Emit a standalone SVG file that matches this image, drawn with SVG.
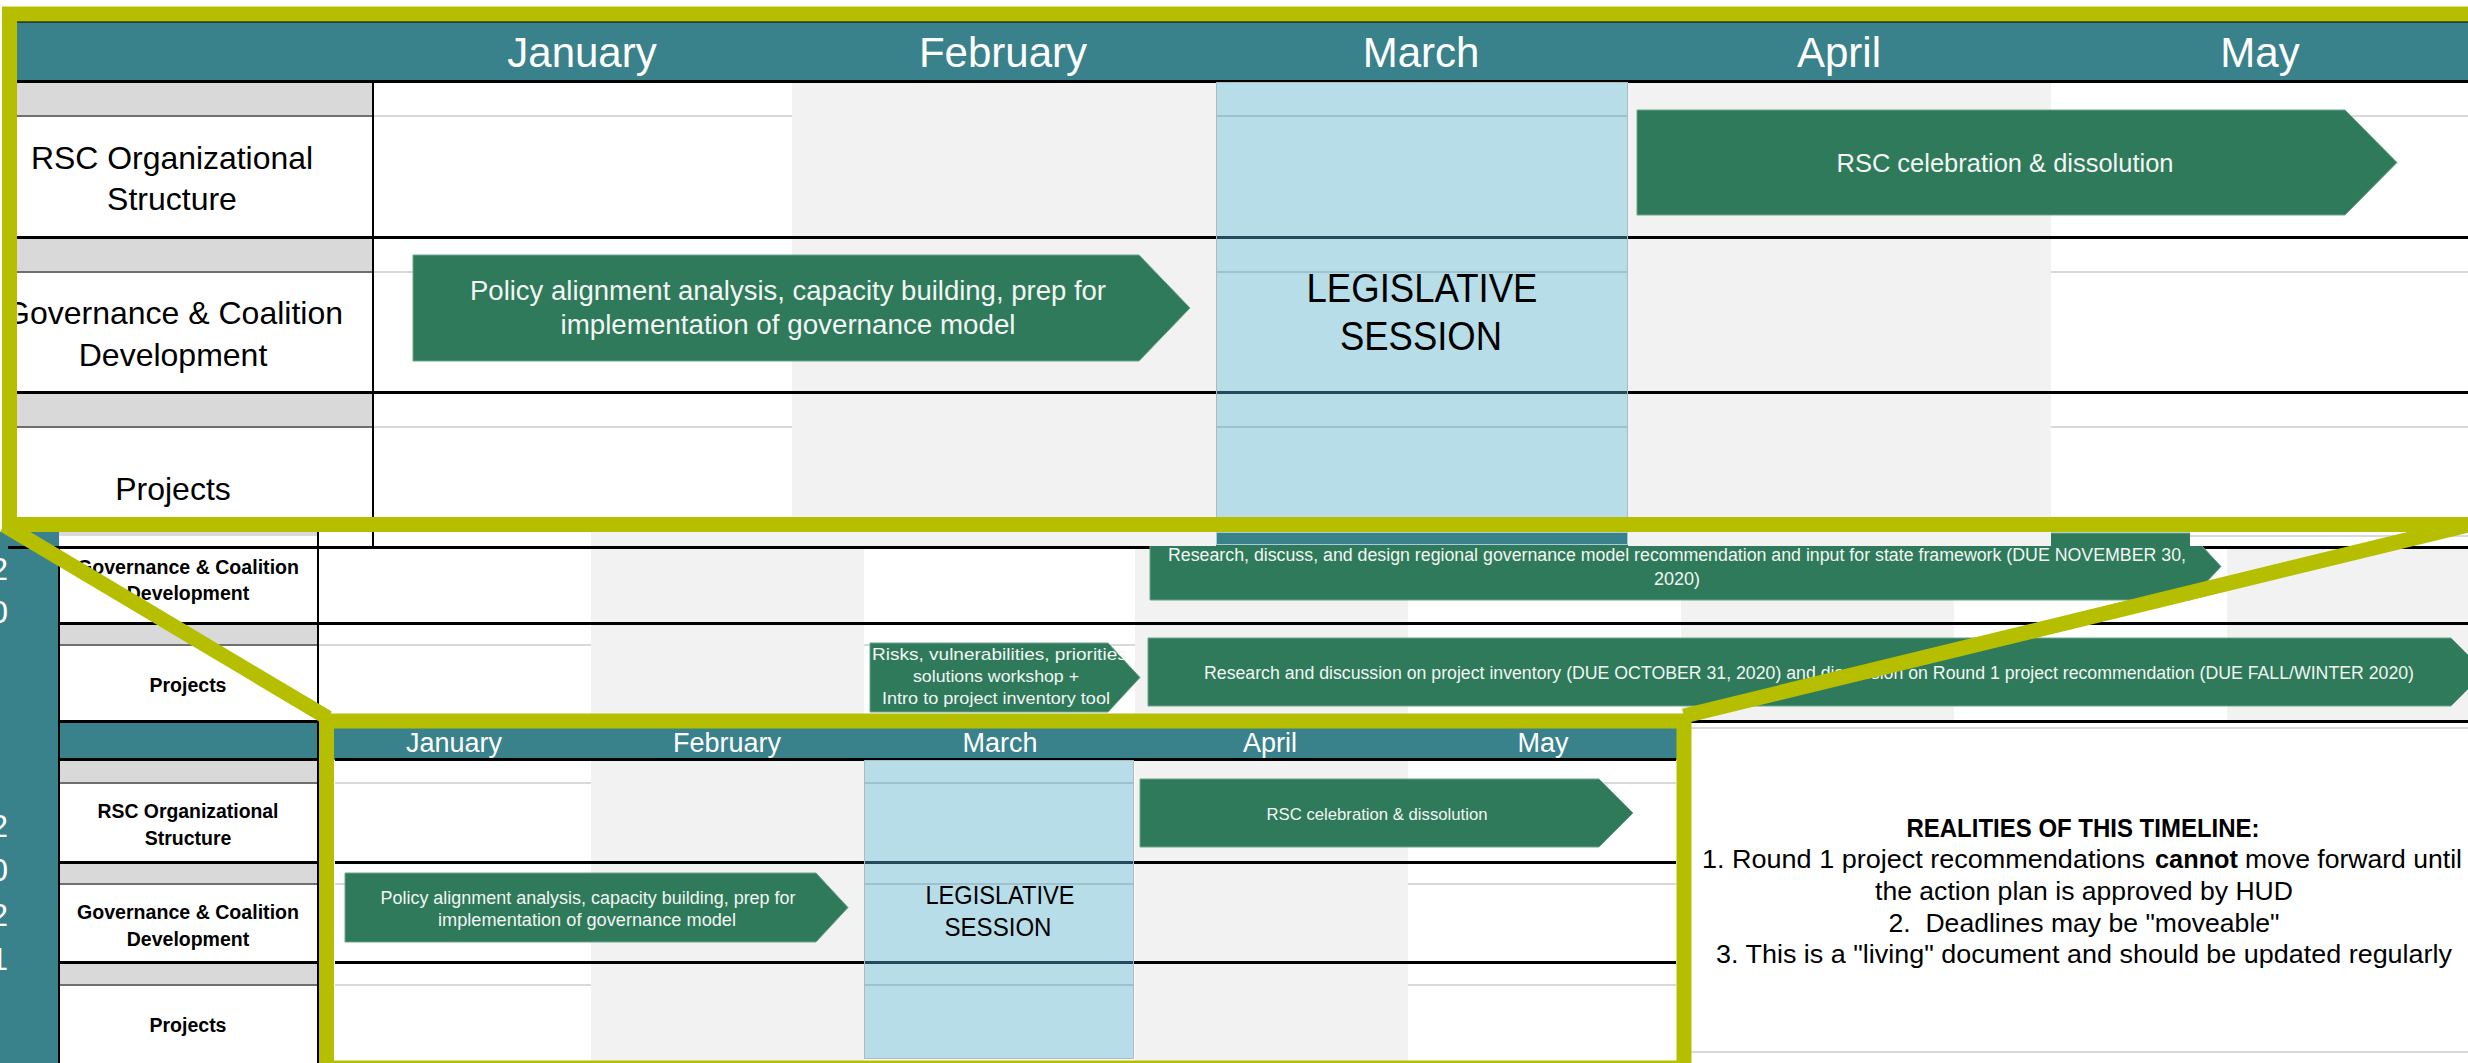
<svg xmlns="http://www.w3.org/2000/svg" width="2468" height="1063" viewBox="0 0 2468 1063">
<defs>
<style>
text{font-family:"Liberation Sans",Arial,sans-serif}
.mh{fill:#fff;text-anchor:middle}
.lb{fill:#000;text-anchor:middle}
.lbs{fill:#000;text-anchor:middle;font-weight:bold;font-size:19.5px}
.ar{fill:#2e7a5a;stroke:#6aa48a;stroke-width:1}
.at{fill:#f3f6f4;text-anchor:middle}
.teal{fill:#3a828b}
.band{fill:#d9d9d9}
.gcol{fill:#f2f2f2}
.blk{fill:#000}
.lt{fill:#d9d9d9}
.dg{fill:#6f6f6f}
.bl{fill:#9dc2ce}
.bd{fill:#23495a}
.frame{fill:none;stroke:#b6be00;stroke-width:15}
.conn{stroke:#b6be00;stroke-width:15;fill:none}
.yr{fill:#fff;font-size:32px;text-anchor:end}
.nt{fill:#000;text-anchor:middle;font-size:26px}
</style>
</defs>
<rect width="2468" height="1063" fill="#fff"/>

<g id="sheet">
  <rect class="teal" x="0" y="532" width="59" height="531"/>
  <text class="yr" x="8" y="580">2</text>
  <text class="yr" x="8" y="623">0</text>
  <text class="yr" x="8" y="837">2</text>
  <text class="yr" x="8" y="881">0</text>
  <text class="yr" x="8" y="926">2</text>
  <text class="yr" x="8" y="970">1</text>
  <rect class="gcol" x="591" y="532" width="273" height="189"/>
  <rect class="gcol" x="1135" y="532" width="273" height="189"/>
  <rect class="gcol" x="1681" y="532" width="273" height="189"/>
  <rect class="gcol" x="2227" y="532" width="241" height="189"/>
  <rect class="band" x="59" y="532" width="259" height="4"/>
  <rect class="band" x="59" y="623" width="259" height="22"/>
  <rect class="lt" x="318" y="644" width="273" height="2"/>
  <rect class="lt" x="864" y="644" width="271" height="2"/>
  <rect class="lt" x="1408" y="644" width="273" height="2"/>
  <rect class="lt" x="1954" y="644" width="273" height="2"/>
  <rect class="dg" x="59" y="644" width="259" height="2"/>
  <rect class="teal" x="59" y="721" width="1632" height="39"/>
  <rect class="band" x="59" y="760" width="259" height="23"/>
  <rect class="band" x="59" y="862" width="259" height="22"/>
  <rect class="band" x="59" y="962" width="259" height="23"/>
  <rect class="dg" x="59" y="782" width="259" height="2"/>
  <rect class="dg" x="59" y="883" width="259" height="2"/>
  <rect class="dg" x="59" y="984" width="259" height="2"/>
  <rect class="blk" x="8" y="546" width="2460" height="3"/>
  <rect class="blk" x="59" y="622" width="2409" height="3"/>
  <rect class="blk" x="59" y="720" width="2409" height="3"/>
  <rect class="blk" x="59" y="758" width="259" height="3"/>
  <rect class="blk" x="59" y="861" width="259" height="3"/>
  <rect class="blk" x="59" y="961" width="259" height="3"/>
  <rect class="blk" x="58" y="547" width="2" height="516"/>
  <rect class="blk" x="317" y="532" width="2" height="531"/>
  <text class="lbs" x="188" y="574" textLength="222" lengthAdjust="spacingAndGlyphs">Governance &amp; Coalition</text>
  <text class="lbs" x="188" y="600">Development</text>
  <text class="lbs" x="188" y="692">Projects</text>
  <text class="lbs" x="188" y="818" textLength="181" lengthAdjust="spacingAndGlyphs">RSC Organizational</text>
  <text class="lbs" x="188" y="845">Structure</text>
  <text class="lbs" x="188" y="919" textLength="222" lengthAdjust="spacingAndGlyphs">Governance &amp; Coalition</text>
  <text class="lbs" x="188" y="946">Development</text>
  <text class="lbs" x="188" y="1032">Projects</text>
  <g id="arrow-research-governance">
    <path class="ar" d="M1150,533 H2190 L2221,566.5 L2190,600 H1150 Z"/>
    <text class="at" x="1677" y="561" font-size="18" textLength="1018" lengthAdjust="spacingAndGlyphs">Research, discuss, and design regional governance model recommendation and input for state framework (DUE NOVEMBER 30,</text>
    <text class="at" x="1677" y="585" font-size="18">2020)</text>
  </g>
  <g id="arrow-risks-workshop">
    <path class="ar" d="M870,643 H1108 L1140,677.5 L1108,712 H870 Z"/>
    <text class="at" x="1002" y="660" font-size="17" textLength="260" lengthAdjust="spacingAndGlyphs">Risks, vulnerabilities, priorities,</text>
    <text class="at" x="996" y="682" font-size="17" textLength="166" lengthAdjust="spacingAndGlyphs">solutions workshop +</text>
    <text class="at" x="996" y="704" font-size="17" textLength="228" lengthAdjust="spacingAndGlyphs">Intro to project inventory tool</text>
  </g>
  <g id="arrow-project-inventory">
    <path class="ar" d="M1148,638 H2451 L2485,672 L2451,706 H1148 Z"/>
    <text class="at" x="1809" y="679" font-size="18" textLength="1210" lengthAdjust="spacingAndGlyphs">Research and discussion on project inventory (DUE OCTOBER 31, 2020) and discussion on Round 1 project recommendation (DUE FALL/WINTER 2020)</text>
  </g>
  <g id="notes">
    <rect class="lt" x="1691" y="727" width="777" height="2"/>
    <rect class="lt" x="1691" y="1051" width="777" height="2"/>
    <text class="nt" x="2083" y="837" font-weight="bold" textLength="353" lengthAdjust="spacingAndGlyphs">REALITIES OF THIS TIMELINE:</text>
    <text class="nt" y="868" style="text-anchor:start"><tspan x="1702" textLength="443" lengthAdjust="spacingAndGlyphs">1. Round 1 project recommendations</tspan><tspan x="2155" font-weight="bold" textLength="83" lengthAdjust="spacingAndGlyphs">cannot</tspan><tspan x="2245" textLength="217" lengthAdjust="spacingAndGlyphs">move forward until</tspan></text>
    <text class="nt" x="2084" y="900" textLength="418" lengthAdjust="spacingAndGlyphs">the action plan is approved by HUD</text>
    <text class="nt" x="2084" y="932" textLength="391" lengthAdjust="spacingAndGlyphs">2.&#160; Deadlines may be "moveable"</text>
    <text class="nt" x="2084" y="963" textLength="736" lengthAdjust="spacingAndGlyphs">3. This is a "living" document and should be updated regularly</text>
  </g>
</g>

<g id="callout-zoom">
  <rect fill="#fff" x="17" y="22" width="2451" height="510"/>
  <rect class="teal" x="17" y="22" width="2451" height="59"/>
  <rect class="blk" x="17" y="21" width="2451" height="1.5"/>
  <rect class="gcol" x="792" y="83" width="424" height="449"/>
  <rect class="gcol" x="1628" y="83" width="423" height="449"/>
  <rect class="gcol" x="792" y="532" width="424" height="14"/>
  <rect class="gcol" x="1628" y="532" width="423" height="14"/>
  <rect fill="#fff" x="2190" y="532" width="278" height="14"/>
  <rect class="lt" x="2190" y="535" width="278" height="2"/>
  <rect class="band" x="17" y="83" width="356" height="33"/>
  <rect class="band" x="17" y="239" width="356" height="33"/>
  <rect class="band" x="17" y="394" width="356" height="33"/>
  <rect class="dg" x="17" y="115" width="356" height="2"/>
  <rect class="dg" x="17" y="271" width="356" height="2"/>
  <rect class="dg" x="17" y="426" width="356" height="2"/>
  <rect class="lt" x="373" y="115" width="419" height="2"/>
  <rect class="lt" x="373" y="271" width="419" height="2"/>
  <rect class="lt" x="373" y="426" width="419" height="2"/>
  <rect class="lt" x="2051" y="115" width="417" height="2"/>
  <rect class="lt" x="2051" y="271" width="417" height="2"/>
  <rect class="lt" x="2051" y="426" width="417" height="2"/>
  <rect class="blk" x="17" y="80" width="2451" height="3"/>
  <rect class="blk" x="17" y="236" width="2451" height="3"/>
  <rect class="blk" x="17" y="391" width="2451" height="3"/>
  <rect class="blk" x="372" y="81" width="2" height="466"/>
  <rect fill="#b7dde8" stroke="#a9bcc2" stroke-width="1" x="1216.5" y="82.5" width="411" height="450"/>
  <rect class="bl" x="1217" y="115" width="410" height="2"/>
  <rect class="bl" x="1217" y="271" width="410" height="2"/>
  <rect class="bl" x="1217" y="426" width="410" height="2"/>
  <rect class="bd" x="1217" y="236" width="410" height="3"/>
  <rect class="bd" x="1217" y="391" width="410" height="3"/>
  <rect class="teal" stroke="#a6cdd4" stroke-width="1" x="1216.5" y="532.5" width="411" height="12"/>
  <text class="mh" x="582" y="67" font-size="42">January</text>
  <text class="mh" x="1003" y="67" font-size="42">February</text>
  <text class="mh" x="1421" y="67" font-size="42">March</text>
  <text class="mh" x="1839" y="67" font-size="42">April</text>
  <text class="mh" x="2260" y="67" font-size="42">May</text>
  <text class="lb" x="172" y="169" font-size="32" textLength="282" lengthAdjust="spacingAndGlyphs">RSC Organizational</text>
  <text class="lb" x="172" y="210" font-size="32">Structure</text>
  <text class="lb" x="174" y="324" font-size="32">Governance &amp; Coalition</text>
  <text class="lb" x="173" y="366" font-size="32">Development</text>
  <text class="lb" x="173" y="500" font-size="32">Projects</text>
  <g id="zoom-arrow-policy">
    <path class="ar" d="M413,255 H1139 L1190,308 L1139,361 H413 Z"/>
    <text class="at" x="788" y="300" font-size="27" textLength="636" lengthAdjust="spacingAndGlyphs">Policy alignment analysis, capacity building, prep for</text>
    <text class="at" x="788" y="334" font-size="27" textLength="455" lengthAdjust="spacingAndGlyphs">implementation of governance model</text>
  </g>
  <g id="zoom-arrow-rsc">
    <path class="ar" d="M1637,110 H2345 L2397,162.5 L2345,215 H1637 Z"/>
    <text class="at" x="2005" y="172" font-size="25" textLength="337" lengthAdjust="spacingAndGlyphs">RSC celebration &amp; dissolution</text>
  </g>
  <g id="zoom-legislative">
    <text class="lb" x="1422" y="302" font-size="41" textLength="231" lengthAdjust="spacingAndGlyphs">LEGISLATIVE</text>
    <text class="lb" x="1421" y="350" font-size="41" textLength="162" lengthAdjust="spacingAndGlyphs">SESSION</text>
  </g>
</g>

<g id="callout-2021">
  <rect fill="#fff" x="335" y="729" width="1341" height="334"/>
  <rect class="teal" x="335" y="729" width="1341" height="30"/>
  <rect class="gcol" x="591" y="761" width="273" height="302"/>
  <rect class="gcol" x="1135" y="761" width="273" height="302"/>
  <rect class="lt" x="335" y="782" width="256" height="2"/>
  <rect class="lt" x="335" y="883" width="256" height="2"/>
  <rect class="lt" x="335" y="984" width="256" height="2"/>
  <rect class="lt" x="1408" y="782" width="268" height="2"/>
  <rect class="lt" x="1408" y="883" width="268" height="2"/>
  <rect class="lt" x="1408" y="984" width="268" height="2"/>
  <rect class="blk" x="335" y="758" width="1341" height="3"/>
  <rect class="blk" x="335" y="861" width="1341" height="3"/>
  <rect class="blk" x="335" y="961" width="1341" height="3"/>
  <rect fill="#b7dde8" stroke="#a9bcc2" stroke-width="1" x="864.5" y="760.5" width="269" height="298"/>
  <rect class="bl" x="865" y="782" width="268" height="2"/>
  <rect class="bl" x="865" y="883" width="268" height="2"/>
  <rect class="bl" x="865" y="984" width="268" height="2"/>
  <rect class="bd" x="865" y="861" width="268" height="3"/>
  <rect class="bd" x="865" y="961" width="268" height="3"/>
  <text class="mh" x="454" y="752" font-size="27">January</text>
  <text class="mh" x="727" y="752" font-size="27">February</text>
  <text class="mh" x="1000" y="752" font-size="27">March</text>
  <text class="mh" x="1270" y="752" font-size="27">April</text>
  <text class="mh" x="1543" y="752" font-size="27">May</text>
  <g id="arrow-rsc-2021">
    <path class="ar" d="M1140,779 H1599 L1633,813 L1599,847 H1140 Z"/>
    <text class="at" x="1377" y="820" font-size="16" textLength="221" lengthAdjust="spacingAndGlyphs">RSC celebration &amp; dissolution</text>
  </g>
  <g id="arrow-policy-2021">
    <path class="ar" d="M345,873 H816 L848,907.5 L816,942 H345 Z"/>
    <text class="at" x="588" y="904" font-size="17.5" textLength="415" lengthAdjust="spacingAndGlyphs">Policy alignment analysis, capacity building, prep for</text>
    <text class="at" x="587" y="926" font-size="17.5" textLength="298" lengthAdjust="spacingAndGlyphs">implementation of governance model</text>
  </g>
  <g id="legislative-2021">
    <text class="lb" x="1000" y="904" font-size="26" textLength="149" lengthAdjust="spacingAndGlyphs">LEGISLATIVE</text>
    <text class="lb" x="998" y="936" font-size="26" textLength="107" lengthAdjust="spacingAndGlyphs">SESSION</text>
  </g>
</g>

<g id="connectors">
  <line class="conn" x1="4" y1="525" x2="328" y2="718"/>
  <line class="conn" x1="2476" y1="523" x2="1684" y2="716"/>
</g>

<g id="frames">
  <rect class="frame" x="9.5" y="14" width="2480" height="510.5"/>
  <rect class="frame" x="326.5" y="721" width="1357.5" height="347"/>
</g>
</svg>
